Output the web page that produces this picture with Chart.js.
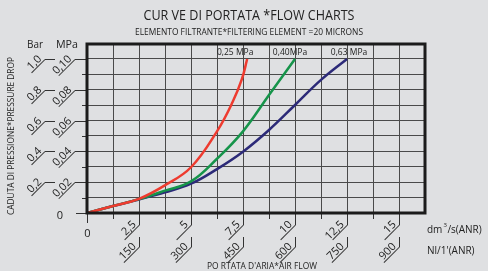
<!DOCTYPE html>
<html>
<head>
<meta charset="utf-8">
<script src="https://cdn.jsdelivr.net/npm/chart.js@4"></script>
<style>
  html, body { margin: 0; padding: 0; background: #dfe0e2; }
  #wrap { width: 488px; height: 271px; position: relative; }
</style>
</head>
<body>
<div id="wrap"><canvas id="chart"></canvas></div>
<script>
// flow in dm3/s (ANR), pressure drop in MPa
const flowRed = [0, 1.25, 2.5, 3.75, 5, 6.25, 7, 7.45, 7.7];
const dropRed = [0, 0.0045, 0.0092, 0.018, 0.0297, 0.053, 0.072, 0.087, 0.1];
const flowGreen = [0, 1.25, 2.5, 3.75, 5, 6.25, 7.5, 8.75, 10];
const dropGreen = [0, 0.0045, 0.009, 0.0145, 0.0205, 0.0352, 0.053, 0.0766, 0.1];
const flowBlue = [0, 1.25, 2.5, 3.75, 5, 6.25, 7.5, 8.75, 10, 11.25, 12.5];
const dropBlue = [0, 0.0045, 0.0088, 0.0134, 0.019, 0.0285, 0.0398, 0.0539, 0.0701, 0.0864, 0.1];

const seriesNames = ['0,25 MPa', '0,40MPa', '0,63 MPa'];
const seriesColors = ['#ee3b2f', '#16944a', '#2c2a78'];

const xTickValues = [2.5, 5, 7.5, 10, 12.5, 15];
const dmLabels = ['2,5', '5', '7,5', '10', '12,5', '15'];
const nlLabels = ['150', '300', '450', '600', '750', '900'];
const yTickValues = [0.02, 0.04, 0.06, 0.08, 0.10];
const mpaLabels = ['0,02', '0,04', '0,06', '0,08', '0,10'];
const barLabels = ['0,2', '0,4', '0,6', '0,8', '1,0'];

const pts = (xs, ys) => xs.map((x, i) => ({ x: x, y: ys[i] }));

function fitText(ctx, text, cx, cy, width, font) {
  ctx.save();
  ctx.font = font;
  const w = ctx.measureText(text).width;
  ctx.translate(cx, cy);
  ctx.scale(width / w, 1);
  ctx.textAlign = 'center';
  ctx.textBaseline = 'middle';
  ctx.fillText(text, 0, 0);
  ctx.restore();
}

// text sitting on a slanted underline that runs down-left from (ax, ay)
function slant(ctx, text, ax, ay, len) {
  ctx.save();
  ctx.translate(ax, ay);
  ctx.rotate(-Math.PI / 4);
  ctx.beginPath();
  ctx.moveTo(-len, 0);
  ctx.lineTo(0, 0);
  ctx.stroke();
  ctx.textAlign = 'right';
  ctx.textBaseline = 'alphabetic';
  ctx.fillText(text, -2, -2);
  ctx.restore();
}

const decorations = {
  id: 'decorations',
  afterDraw(chart) {
    const ctx = chart.ctx;
    const a = chart.chartArea;
    const xs = chart.scales.x;
    const ys = chart.scales.y;
    ctx.save();
    ctx.fillStyle = '#222';
    ctx.strokeStyle = '#333';
    ctx.lineWidth = 1;

    // titles
    fitText(ctx, 'CUR VE DI PORTATA *FLOW CHARTS', 249, 16, 211, '14px "Open Sans"');
    fitText(ctx, 'ELEMENTO FILTRANTE*FILTERING ELEMENT =20 MICRONS', 249, 33, 228, '8.5px "Open Sans"');
    fitText(ctx, 'PO RTATA D\'ARIA*AIR FLOW', 262, 266, 110, '9px "Open Sans"');
    ctx.save();
    ctx.translate(12, 136);
    ctx.rotate(-Math.PI / 2);
    fitText(ctx, 'CADUTA DI PRESSIONE*PRESSURE DROP', 0, 0, 158, '8.5px "Open Sans"');
    ctx.restore();

    // units
    ctx.font = '10px "Open Sans"';
    ctx.textAlign = 'left';
    ctx.textBaseline = 'middle';
    ctx.fillText('dm', 427, 230);
    const dmW = ctx.measureText('dm').width;
    ctx.font = '6px "Open Sans"';
    ctx.fillText('3', 427 + dmW + 1, 225);
    ctx.font = '10px "Open Sans"';
    ctx.fillText('/s(ANR)', 427 + dmW + 5, 230);
    ctx.fillText('Nl/1\'(ANR)', 427, 251);
    fitText(ctx, 'Bar', 35, 45, 16, '10px "Open Sans"');
    fitText(ctx, 'MPa', 67, 45, 22, '10px "Open Sans"');

    // x ticks below the axis
    ctx.lineWidth = 1;
    for (let v = 1.25; v < 16; v += 1.25) {
      const px = Math.round(xs.getPixelForValue(v)) + 0.5;
      ctx.beginPath();
      ctx.moveTo(px, a.bottom);
      ctx.lineTo(px, a.bottom + 6);
      ctx.stroke();
    }
    const x0 = Math.round(xs.getPixelForValue(0)) + 0.5;
    ctx.beginPath();
    ctx.moveTo(x0, a.bottom);
    ctx.lineTo(x0, a.bottom + 10);
    ctx.stroke();
    ctx.font = '11px "Open Sans"';
    ctx.textAlign = 'center';
    ctx.fillText('0', x0, 234);
    xTickValues.forEach((v, i) => {
      const px = Math.round(xs.getPixelForValue(v)) + 0.5;
      ctx.beginPath();
      ctx.moveTo(px, a.bottom);
      ctx.lineTo(px, 225);
      ctx.moveTo(px, 237);
      ctx.lineTo(px, 247);
      ctx.stroke();
      ctx.font = '11px "Open Sans"';
      slant(ctx, dmLabels[i], px, 225, 21);
      slant(ctx, nlLabels[i], px, 247, 22);
    });

    // y ticks left of the axis
    for (let k = 1; k <= 10; k += 2) {
      const py = Math.round(ys.getPixelForValue(k / 100)) + 0.5;
      ctx.beginPath();
      ctx.moveTo(a.left - 5, py);
      ctx.lineTo(a.left, py);
      ctx.stroke();
    }
    const y0 = Math.round(ys.getPixelForValue(0)) + 0.5;
    ctx.beginPath();
    ctx.moveTo(a.left - 11, y0);
    ctx.lineTo(a.left, y0);
    ctx.stroke();
    ctx.font = '11px "Open Sans"';
    ctx.textAlign = 'center';
    ctx.textBaseline = 'middle';
    ctx.fillText('0', 60, 216);
    yTickValues.forEach((v, i) => {
      const py = Math.round(ys.getPixelForValue(v)) + 0.5;
      ctx.beginPath();
      ctx.moveTo(a.left, py);
      ctx.lineTo(a.left - 12, py);
      ctx.moveTo(55, py);
      ctx.lineTo(45, py);
      ctx.stroke();
      ctx.font = '11px "Open Sans"';
      slant(ctx, mpaLabels[i], a.left - 12, py, 23);
      slant(ctx, barLabels[i], 45, py, 19);
    });

    // series names above the curve ends
    const offs = [-12, -5, 2];
    ctx.font = '8.5px "Open Sans"';
    ctx.textAlign = 'center';
    ctx.textBaseline = 'middle';
    chart.data.datasets.forEach((ds, i) => {
      const last = ds.data[ds.data.length - 1];
      ctx.fillStyle = '#222';
      ctx.fillText(seriesNames[i], xs.getPixelForValue(last.x) + offs[i], a.top + 9);
    });

    // heavy frame
    ctx.strokeStyle = '#1b1b1b';
    ctx.lineWidth = 3;
    ctx.strokeRect(a.left, a.top, a.right - a.left, a.bottom - a.top);
    ctx.restore();
  }
};

new Chart(document.getElementById('chart'), {
  type: 'line',
  data: {
    datasets: [
      { label: seriesNames[0], data: pts(flowRed, dropRed), borderColor: seriesColors[0] },
      { label: seriesNames[1], data: pts(flowGreen, dropGreen), borderColor: seriesColors[1] },
      { label: seriesNames[2], data: pts(flowBlue, dropBlue), borderColor: seriesColors[2] }
    ]
  },
  options: {
    responsive: true,
    maintainAspectRatio: false,
    animation: false,
    layout: { padding: { left: 87, right: 63, top: 44, bottom: 58 } },
    elements: {
      line: { borderWidth: 2.5, tension: 0.4, fill: false },
      point: { radius: 0 }
    },
    plugins: { legend: { display: false }, tooltip: { enabled: false } },
    scales: {
      x: {
        type: 'linear',
        min: 0,
        max: 16.25,
        ticks: { display: false, stepSize: 1.25 },
        border: { display: false },
        grid: { color: '#4a4a4a', lineWidth: 1, drawTicks: false }
      },
      y: {
        min: 0,
        max: 0.1097,
        ticks: { display: false, stepSize: 0.01 },
        border: { display: false },
        grid: { color: '#4a4a4a', lineWidth: 1, drawTicks: false }
      }
    }
  },
  plugins: [decorations]
});
</script>
</body>
</html>
